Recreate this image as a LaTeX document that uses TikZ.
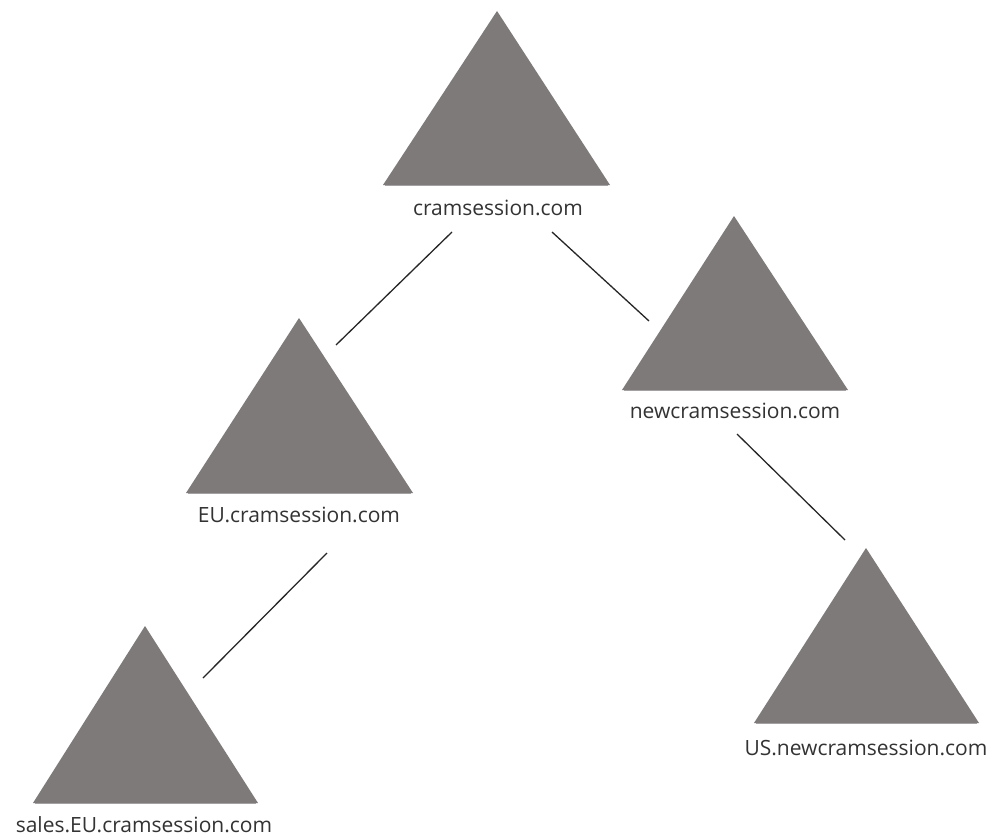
\documentclass[tikz,border=0pt]{standalone}
\usepackage{fontspec}
\setmainfont{Open Sans}
\begin{document}
\begin{tikzpicture}[x=1pt,y=-1pt,
  treeshape/.style={fill=treegray,draw=none},
  baseshade/.style={draw=treegray!70!black,line width=1.2pt,opacity=0.5},
  dlabel/.style={font=\fontsize{21}{24}\selectfont,text=labelgray,inner sep=0pt,anchor=base},
  link/.style={draw=black!85,line width=1.3pt}]
\definecolor{treegray}{HTML}{7F7A7A}
\definecolor{labelgray}{HTML}{333333}
\useasboundingbox (0,0) rectangle (996,840);
\fill[white] (0,0) rectangle (996,840);

% domain triangles: apex, base-left, base-right, with a soft edge under the base
\fill[treeshape] (497,11) -- (383,185) -- (610,185) -- cycle;
\draw[baseshade] (385,185.5) -- (608,185.5);
\fill[treeshape] (734,216) -- (622,390) -- (848,390) -- cycle;
\draw[baseshade] (624,390.5) -- (846,390.5);
\fill[treeshape] (299,318) -- (186,493) -- (413,493) -- cycle;
\draw[baseshade] (188,493.5) -- (411,493.5);
\fill[treeshape] (145,626) -- (33,803) -- (258,803) -- cycle;
\draw[baseshade] (35,803.5) -- (256,803.5);
\fill[treeshape] (866,548) -- (754,723) -- (979,723) -- cycle;
\draw[baseshade] (756,723.5) -- (977,723.5);

% domain names
\node[dlabel] (root) at (498,215) {cramsession.com};
\node[dlabel] (newc) at (735,418) {newcramsession.com};
\node[dlabel] (eu)   at (299,522) {EU.cramsession.com};
\node[dlabel] (sales) at (144,832) {sales.EU.cramsession.com};
\node[dlabel] (us)   at (866,755) {US.newcramsession.com};

% connector end points
\coordinate (r1) at (452,232);
\coordinate (e1) at (336,345);
\coordinate (r2) at (552,232);
\coordinate (n1) at (649,321);
\coordinate (n2) at (737,434);
\coordinate (u1) at (845,540);
\coordinate (e2) at (327,553);
\coordinate (s1) at (203,678);

\draw[link] (r1) -- (e1);
\draw[link] (r2) -- (n1);
\draw[link] (n2) -- (u1);
\draw[link] (e2) -- (s1);
\end{tikzpicture}
\end{document}
